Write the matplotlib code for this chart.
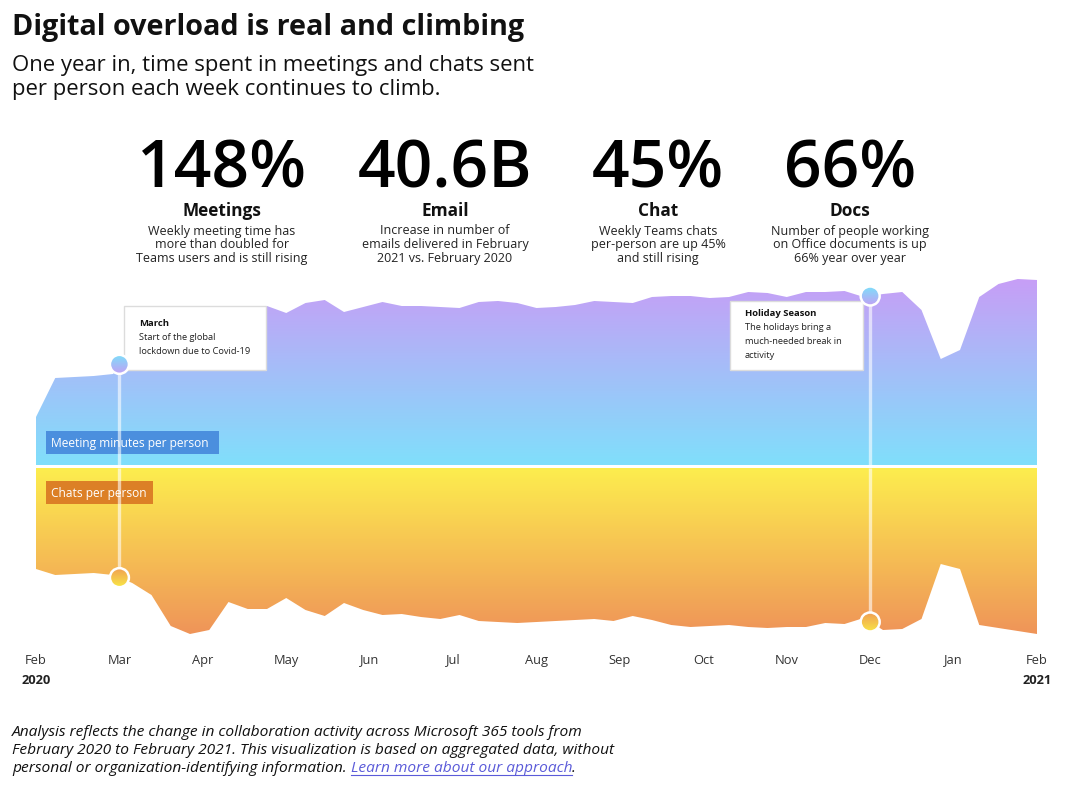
import numpy as np
import matplotlib
matplotlib.use("Agg")
import matplotlib.pyplot as plt
from matplotlib.patches import Rectangle, Circle
from matplotlib.lines import Line2D
from matplotlib.colors import LinearSegmentedColormap
from matplotlib import transforms
from matplotlib import font_manager as fm


def _weight(f):
    w = f.weight
    if isinstance(w, (int, float)):
        return w
    return fm.weight_dict.get(w, 400)


def pick_family(cands):
    for fam in cands:
        entries = [f for f in fm.fontManager.ttflist if f.name == fam]
        if not entries:
            continue
        bold = any(_weight(f) >= 600 for f in entries)
        italic = any(f.style in ("italic", "oblique") for f in entries)
        if bold and italic:
            return fam
    return "DejaVu Sans"


FAMILY = pick_family(["Open Sans", "Noto Sans", "Lato", "Roboto", "Liberation Sans"])
plt.rcParams['font.family'] = [FAMILY, 'DejaVu Sans']

# ---------------- data ----------------
weeks = np.arange(53)  # weekly points, Feb 2020 -> Feb 2021
meeting_minutes = [48, 87, 88, 89, 91, 120, 146, 152, 151, 155, 153, 156, 159, 152,
                   162, 165, 153, 158, 163, 159, 159, 158, 157, 163, 164, 162, 157,
                   158, 160, 164, 163, 162, 168, 169, 169, 167, 168, 173, 172, 168,
                   173, 173, 174, 168, 171, 173, 155, 106, 115, 168, 181, 186, 185]
chats_per_person = [101, 107, 106, 105, 107, 115, 127, 158, 166, 162, 134, 141, 141,
                    130, 142, 148, 135, 142, 147, 146, 149, 151, 147, 153, 154, 155,
                    154, 153, 152, 151, 153, 148, 152, 157, 159, 158, 157, 159, 160,
                    159, 159, 155, 156, 150, 162, 161, 151, 96, 101, 157, 160, 163, 166]
month_labels = ["Feb", "Mar", "Apr", "May", "Jun", "Jul", "Aug", "Sep", "Oct",
                "Nov", "Dec", "Jan", "Feb"]
year_labels = ["2020", "2021"]
stat_values = ["148%", "40.6B", "45%", "66%"]
stat_titles = ["Meetings", "Email", "Chat", "Docs"]
stat_descs = ["Weekly meeting time has\nmore than doubled for\nTeams users and is still rising",
              "Increase in number of\nemails delivered in February\n2021 vs. February 2020",
              "Weekly Teams chats\nper-person are up 45%\nand still rising",
              "Number of people working\non Office documents is up\n66% year over year"]
event_titles = ["March", "Holiday Season"]
event_texts = ["Start of the global\nlockdown due to Covid-19",
               "The holidays bring a\nmuch-needed break in\nactivity"]
event_months = [1, 10]  # index into month_labels
series_labels = ["Meeting minutes per person", "Chats per person"]

title = "Digital overload is real and climbing"
subtitle_lines = ["One year in, time spent in meetings and chats sent",
                  "per person each week continues to climb."]
footer_lines = ["Analysis reflects the change in collaboration activity across Microsoft 365 tools from",
                "February 2020 to February 2021. This visualization is based on aggregated data, without",
                "personal or organization-identifying information. "]
footer_link = "Learn more about our approach"

# ---------------- layout ----------------
W, H = 1081, 788
fig = plt.figure(figsize=(W / 100, H / 100), dpi=100)
fig.patch.set_facecolor("white")


def fx(px):
    return px / W


def fy(py):
    return 1 - py / H


X0, X1 = 36, 1037
ax_m = fig.add_axes([fx(X0), fy(465), fx(X1) - fx(X0), (465 - 270) / H])
ax_c = fig.add_axes([fx(X0), fy(648), fx(X1) - fx(X0), (648 - 468) / H])
for ax in (ax_m, ax_c):
    ax.set_facecolor("none")
    for s in ax.spines.values():
        s.set_visible(False)
    ax.set_yticks([])
M_YLIM = (0, 195)
C_YLIM = (180, 0)
XLIM = (weeks[0], weeks[-1])


def set_lims():
    ax_m.set_xlim(*XLIM)
    ax_m.set_ylim(*M_YLIM)
    ax_c.set_xlim(*XLIM)
    ax_c.set_ylim(*C_YLIM)


set_lims()
ax_m.set_xticks([])

MEET_LO, MEET_HI = "#80DFFB", "#C79EF6"
CHAT_LO, CHAT_HI = "#FDEE4E", "#EF9459"


def gradient_area(ax, x, y, c_lo, c_hi, ylo, yhi):
    poly = ax.fill_between(x, 0, y, facecolor="none", edgecolor="none", zorder=1)
    path = poly.get_paths()[0]
    cmap = LinearSegmentedColormap.from_list("g", [c_lo, c_hi])
    grad = np.linspace(0, 1, 256).reshape(-1, 1)
    im = ax.imshow(grad, cmap=cmap, aspect="auto", origin="lower",
                   extent=[x[0], x[-1], ylo, yhi], zorder=1, interpolation="bilinear")
    im.set_clip_path(path, transform=ax.transData)


gradient_area(ax_m, weeks, meeting_minutes, MEET_LO, MEET_HI, 0, max(meeting_minutes))
gradient_area(ax_c, weeks, chats_per_person, CHAT_LO, CHAT_HI, 0, max(chats_per_person))
set_lims()

month_pos = np.linspace(weeks[0], weeks[-1], len(month_labels))

# series labels (behind the event lines)
lab_specs = [(ax_m, series_labels[0], "#4B8FDE", 46, 431, 219, 454),
             (ax_c, series_labels[1], "#DC8026", 46, 481, 153, 504)]
for ax, txt, col, l, t, r, b in lab_specs:
    ax.add_patch(Rectangle((fx(l), fy(b)), fx(r) - fx(l), (b - t) / H, transform=fig.transFigure,
                           facecolor=col, edgecolor="none", zorder=2, clip_on=False))
    ax.text(fx(l + 5), fy((t + b) / 2 + 0.5), txt, transform=fig.transFigure, color="white",
            fontsize=8.65, va="center", ha="left", zorder=2.1, clip_on=False)

# event boxes: (left, top, right, bottom, title offset, body offset)
box_specs = [(124, 306, 266, 370, 17, 27.5), (730, 301, 863, 370, 12, 22.5)]
for (l, t, r, b, to, bo), et, etx in zip(box_specs, event_titles, event_texts):
    ax_m.add_patch(Rectangle((fx(l), fy(b)), fx(r) - fx(l), (b - t) / H, transform=fig.transFigure,
                             facecolor="white", edgecolor="#DCDCDC", lw=1.0, zorder=3, clip_on=False))
    ax_m.text(fx(l + 15), fy(t + to), et, transform=fig.transFigure, fontsize=6.8,
              weight="bold", color="#111111", va="center", ha="left", zorder=3.1)
    ax_m.text(fx(l + 15), fy(t + bo), etx, transform=fig.transFigure, fontsize=6.7,
              color="#222222", va="top", ha="left", linespacing=1.68, zorder=3.1)


def gradient_marker(ax, x, y, c_top, c_bot, r_px=9.5):
    cx, cy = ax.transData.transform((x, y))
    trans = fig.dpi_scale_trans + transforms.ScaledTranslation(x, y, ax.transData)
    circ = Circle((0, 0), r_px / 100, transform=trans, facecolor="none", edgecolor="none")
    ax.add_patch(circ)
    (xl, yb) = ax.transData.inverted().transform((cx - r_px, cy - r_px))
    (xr, yt) = ax.transData.inverted().transform((cx + r_px, cy + r_px))
    cmap = LinearSegmentedColormap.from_list("m", [c_bot, c_top])
    grad = np.linspace(0, 1, 64).reshape(-1, 1)
    im = ax.imshow(grad, cmap=cmap, aspect="auto", origin="lower",
                   extent=[xl, xr, yb, yt], zorder=5, interpolation="bilinear")
    im.set_clip_path(circ)
    ring = Circle((0, 0), r_px / 100, transform=trans, facecolor="none",
                  edgecolor="white", lw=1.8, zorder=6, clip_on=False)
    ax.add_patch(ring)


for mi in event_months:
    xm = month_pos[mi]
    ym = np.interp(xm, weeks, meeting_minutes)
    yc = np.interp(xm, weeks, chats_per_person)
    ax_m.plot([xm, xm], [0, ym], color="white", alpha=0.6, lw=2.4, zorder=4, solid_capstyle="butt")
    ax_c.plot([xm, xm], [0, yc], color="white", alpha=0.6, lw=2.4, zorder=4, solid_capstyle="butt")
    gradient_marker(ax_m, xm, ym, "#7FDDFA", "#C2A0F4")
    gradient_marker(ax_c, xm, yc, "#F0A052", "#F9E646")

set_lims()

# month axis
ax_c.set_xticks(month_pos)
ax_c.set_xticklabels(month_labels)
ax_c.tick_params(axis="x", length=0, pad=4, labelsize=9.3, labelcolor="#333333")
yr_trans = transforms.blended_transform_factory(ax_c.transData, fig.transFigure)
for xv, yl in zip([month_pos[0], month_pos[-1]], year_labels):
    ax_c.text(xv, fy(680), yl, transform=yr_trans, fontsize=9.3, weight="bold",
              color="#222222", ha="center", va="center", clip_on=False)

# ---------------- header ----------------
fig.text(fx(12), fy(35), title, fontsize=20.7, weight="bold", color="#111111", va="baseline")
for i, line in enumerate(subtitle_lines):
    fig.text(fx(12), fy(71.5 + 23.5 * i), line, fontsize=15.9, color="#111111", va="baseline")

col_centers = [222, 445, 658, 850]
for cx, v, t, d in zip(col_centers, stat_values, stat_titles, stat_descs):
    fig.text(fx(cx), fy(188), v, fontsize=47.5, weight="semibold", color="#000000",
             ha="center", va="baseline")
    fig.text(fx(cx), fy(216), t, fontsize=12.4, weight="bold", color="#111111", ha="center",
             va="baseline")
    fig.text(fx(cx), fy(224.5), d, fontsize=9.0, color="#222222", ha="center", va="top",
             linespacing=1.08)

# ---------------- footer ----------------
fs_foot = 11.15
for i, line in enumerate(footer_lines):
    fig.text(fx(12), fy(736 + 18 * i), line, fontsize=fs_foot, style="italic",
             color="#111111", va="baseline")
renderer = fig.canvas.get_renderer()
last = fig.texts[-1]
bb = last.get_window_extent(renderer)
link = fig.text(bb.x1 / W, fy(736 + 36), footer_link, fontsize=fs_foot, style="italic",
                color="#5B5BD9", va="baseline")
lb = link.get_window_extent(renderer)
fig.add_artist(Line2D([lb.x0 / W, lb.x1 / W], [fy(774.5), fy(774.5)], color="#5B5BD9", lw=0.8))
fig.text(lb.x1 / W, fy(736 + 36), ".", fontsize=fs_foot, style="italic", color="#111111",
         va="baseline")

fig.savefig("out.png", dpi=100, facecolor="white")
